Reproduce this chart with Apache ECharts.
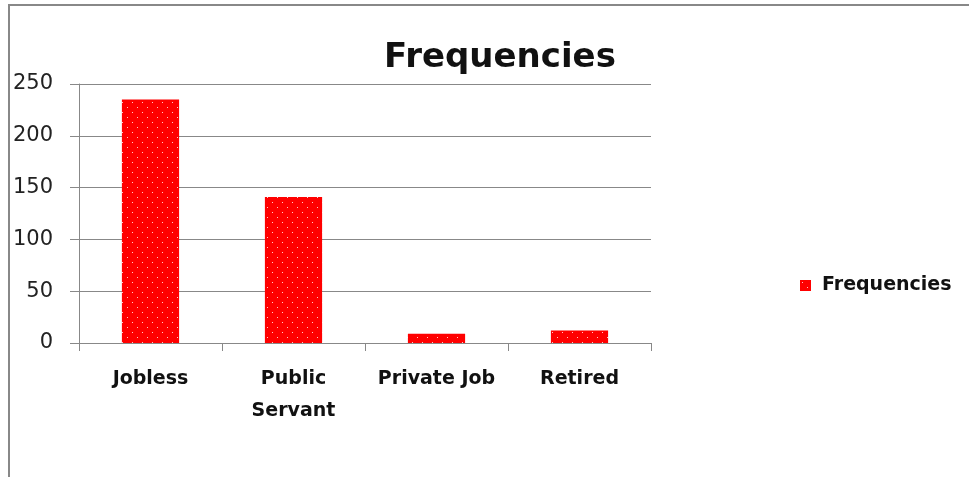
<!DOCTYPE html>
<html><head><meta charset="utf-8">
<script src="https://cdn.jsdelivr.net/npm/echarts@6/dist/echarts.min.js"></script>
<style>html,body{margin:0;padding:0;background:#fff}#c{width:969px;height:477px}</style>
</head><body><div id="c"></div>
<script>
const categories = ['Jobless', 'Public\nServant', 'Private Job', 'Retired'];
const frequencies = [235, 141, 9, 12];
const seriesName = 'Frequencies';
const titleText = 'Frequencies';

const pc = document.createElement('canvas');
pc.width = 10; pc.height = 10;
const g = pc.getContext('2d');
g.fillStyle = '#ff0000'; g.fillRect(0, 0, 10, 10);
g.fillStyle = '#ffc8c8';
g.fillRect(2, 2, 1, 1); g.fillRect(7, 7, 1, 1);
const pattern = { image: pc, repeat: 'repeat' };

const FONT = '"DejaVu Sans", sans-serif';
const chart = echarts.init(document.getElementById('c'));
chart.setOption({
  animation: false,
  backgroundColor: '#fff',
  title: { text: titleText, left: 495, top: 36, textAlign: 'center',
    textStyle: { fontFamily: FONT, fontWeight: 'bold', fontSize: 34, color: '#111' } },
  legend: { left: 800, top: 276, padding: 0, itemWidth: 11, itemHeight: 11, itemGap: 10,
    icon: 'rect',
    textStyle: { fontFamily: FONT, fontWeight: 'bold', fontSize: 19, color: '#111', padding: [0, 0, 0, 6] },
    data: [seriesName] },
  grid: { left: 79, right: 318, top: 84, bottom: 134, containLabel: false },
  xAxis: { type: 'category', data: categories,
    axisLine: { lineStyle: { color: '#888', width: 1 } },
    axisTick: { show: true, interval: 0, length: 8, lineStyle: { color: '#888' } },
    axisLabel: { interval: 0, margin: 20, fontFamily: FONT, fontWeight: 'bold', fontSize: 19, color: '#111', lineHeight: 32 } },
  yAxis: { type: 'value', min: 0, max: 250, interval: 50,
    axisLine: { show: true, lineStyle: { color: '#888', width: 1 } },
    axisTick: { show: true, length: 9, lineStyle: { color: '#888' } },
    splitLine: { lineStyle: { color: '#888', width: 1 } },
    axisLabel: { margin: 26, fontFamily: FONT, fontSize: 21, color: '#222' } },
  series: [{ name: seriesName, type: 'bar', data: frequencies, barWidth: '40%',
    itemStyle: { color: pattern } }],
  graphic: [{ type: 'rect', shape: { x: 9, y: 5, width: 1100, height: 600 },
    style: { fill: 'none', stroke: '#888', lineWidth: 2 }, silent: true }]
});
</script></body></html>
